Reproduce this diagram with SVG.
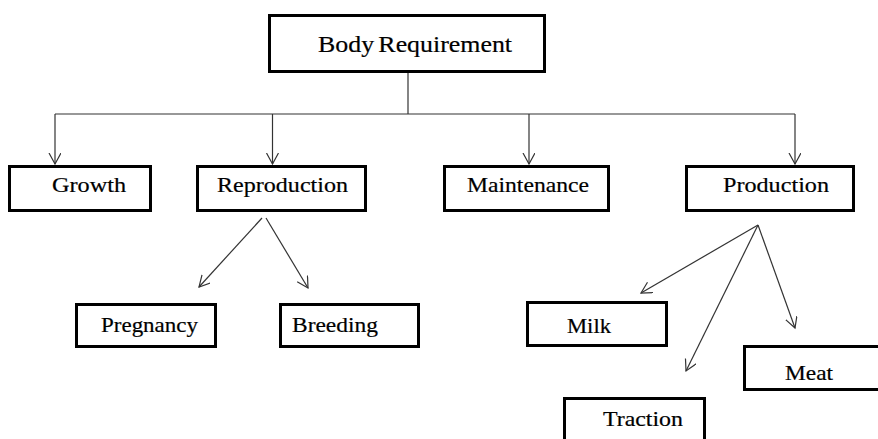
<svg xmlns="http://www.w3.org/2000/svg" width="878" height="439" viewBox="0 0 878 439">
  <style>
    .box { fill: #ffffff; stroke: #000000; stroke-width: 3; }
    .lbl { font-family: "Liberation Serif", "Times New Roman", serif; font-size: 21px; fill: #000000; stroke: #000000; stroke-width: 0.2; }
    .title { font-size: 24px; word-spacing: -2px; }
    .link { fill: none; stroke: #333333; stroke-width: 1.2; }
  </style>
  <defs>
    <marker id="arrow" markerUnits="userSpaceOnUse" markerWidth="14" markerHeight="14" refX="11" refY="6" orient="auto">
      <path d="M0,0 L11,6 L0,12" fill="none" stroke="#333333" stroke-width="1.2"/>
    </marker>
  </defs>
  <rect width="878" height="439" fill="#ffffff"/>

  <!-- connectors -->
  <g id="connectors">
    <path class="link" d="M408,73 L408,114"/>
    <path class="link" d="M55,114 L795,114"/>
    <path class="link" d="M55,114 L55,164" marker-end="url(#arrow)"/>
    <path class="link" d="M272.5,114 L272.5,164" marker-end="url(#arrow)"/>
    <path class="link" d="M529,114 L529,164" marker-end="url(#arrow)"/>
    <path class="link" d="M795,114 L795,164" marker-end="url(#arrow)"/>
    <path class="link" d="M262,218 L199,287" marker-end="url(#arrow)"/>
    <path class="link" d="M266,218 L308,288" marker-end="url(#arrow)"/>
    <path class="link" d="M758,225 L641,293" marker-end="url(#arrow)"/>
    <path class="link" d="M758,225 L686,371" marker-end="url(#arrow)"/>
    <path class="link" d="M758,225 L795,328" marker-end="url(#arrow)"/>
  </g>

  <g id="body-requirement">
    <rect class="box" x="269.5" y="15.5" width="275" height="56"/>
    <text class="lbl title" x="318" y="52" textLength="194" lengthAdjust="spacingAndGlyphs">Body Requirement</text>
  </g>
  <g id="growth">
    <rect class="box" x="9.5" y="166.5" width="141" height="44"/>
    <text class="lbl" x="52" y="192" textLength="74" lengthAdjust="spacingAndGlyphs">Growth</text>
  </g>
  <g id="reproduction">
    <rect class="box" x="197.5" y="166.5" width="168" height="44"/>
    <text class="lbl" x="217" y="192" textLength="131" lengthAdjust="spacingAndGlyphs">Reproduction</text>
  </g>
  <g id="maintenance">
    <rect class="box" x="444.5" y="166.5" width="164" height="44"/>
    <text class="lbl" x="467" y="192" textLength="122" lengthAdjust="spacingAndGlyphs">Maintenance</text>
  </g>
  <g id="production">
    <rect class="box" x="686.5" y="166.5" width="167" height="44"/>
    <text class="lbl" x="723" y="192" textLength="106" lengthAdjust="spacingAndGlyphs">Production</text>
  </g>
  <g id="pregnancy">
    <rect class="box" x="76.5" y="304.5" width="139" height="42"/>
    <text class="lbl" x="101" y="332" textLength="97" lengthAdjust="spacingAndGlyphs">Pregnancy</text>
  </g>
  <g id="breeding">
    <rect class="box" x="280.5" y="304.5" width="138" height="42"/>
    <text class="lbl" x="292" y="332" textLength="86" lengthAdjust="spacingAndGlyphs">Breeding</text>
  </g>
  <g id="milk">
    <rect class="box" x="527.5" y="302.5" width="139" height="43"/>
    <text class="lbl" x="567" y="333" textLength="44" lengthAdjust="spacingAndGlyphs">Milk</text>
  </g>
  <g id="meat">
    <rect class="box" x="744.5" y="346.5" width="140" height="43"/>
    <text class="lbl" x="785" y="380" textLength="48" lengthAdjust="spacingAndGlyphs">Meat</text>
  </g>
  <g id="traction">
    <rect class="box" x="564.5" y="398.5" width="140" height="50"/>
    <text class="lbl" x="603" y="426" textLength="80" lengthAdjust="spacingAndGlyphs">Traction</text>
  </g>
</svg>
